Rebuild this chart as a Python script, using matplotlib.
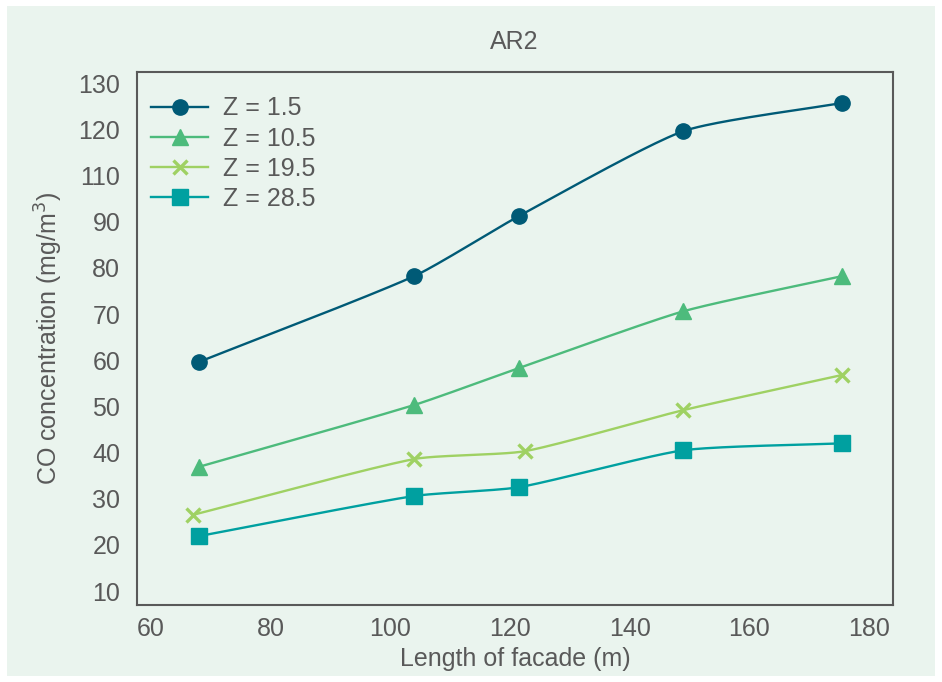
import numpy as np
import matplotlib
matplotlib.use('Agg')
import matplotlib.pyplot as plt
from matplotlib.patches import Rectangle

plt.rcParams['font.family'] = ['Liberation Sans', 'DejaVu Sans']

# data (values as the tick labels read them)
series = ['Z = 1.5', 'Z = 10.5', 'Z = 19.5', 'Z = 28.5']
x_15 = [68, 104, 121.5, 149, 175.5]
y_15 = [59.6, 78.2, 92.4, 119.6, 125.7]
x_105 = [68, 104, 121.5, 149, 175.5]
y_105 = [36.9, 50.3, 58.3, 70.6, 78.2]
x_195 = [67, 104, 122.5, 149, 175.5]
y_195 = [26.5, 38.6, 40.3, 49.2, 56.8]
x_285 = [68, 104, 121.5, 149, 175.5]
y_285 = [21.9, 30.6, 32.5, 40.5, 42.0]

# the original axis skips 100: ticks are evenly spaced but labelled like this
ytick_labels = [10, 20, 30, 40, 50, 60, 70, 80, 90, 110, 120, 130]
ytick_pos = list(range(10, 130, 10))

colors = ['#005a76', '#4dbb7c', '#9fd163', '#00a0a0']
markers = ['o', '^', 'x', 's']
msizes = [11, 12, 10, 11]
text_c = '#595959'


def to_axis(v):
    return np.interp(v, ytick_labels, ytick_pos)


def smooth(x, y, sx=5.96, sy=4.618, n=40):
    # mild smoothing: chord-length scaled bezier tangents, done in pixel-like units
    px = np.asarray(x, float) * sx
    py = np.asarray(y, float) * sy
    pts = np.column_stack([px, py])
    pts = np.vstack([pts[0], pts, pts[-1]])
    out = []
    k = 0.2
    for i in range(1, len(pts) - 2):
        p0, p1, p2, p3 = pts[i - 1], pts[i], pts[i + 1], pts[i + 2]
        d01 = np.hypot(*(p1 - p0))
        d12 = np.hypot(*(p2 - p1))
        d23 = np.hypot(*(p3 - p2))
        c1 = p1 + (p2 - p0) * d12 / (d01 + d12) * k
        c2 = p2 - (p3 - p1) * d12 / (d12 + d23) * k
        t = np.linspace(0, 1, n)[:, None]
        b = (1 - t) ** 3 * p1 + 3 * (1 - t) ** 2 * t * c1 + 3 * (1 - t) * t ** 2 * c2 + t ** 3 * p2
        out.append(b)
    out = np.vstack(out)
    return out[:, 0] / sx, out[:, 1] / sy


fig = plt.figure(figsize=(9.42, 6.82), dpi=100, facecolor='white')
fig.patches.append(Rectangle((7 / 942, 6 / 682), 928 / 942, 670 / 682,
                             transform=fig.transFigure, facecolor='#eaf4ee',
                             edgecolor='none', zorder=-1))
ax = fig.add_axes([137 / 942, 77 / 682, 756 / 942, 533 / 682])
ax.set_facecolor('#eaf4ee')

all_x = [x_15, x_105, x_195, x_285]
all_y = [y_15, y_105, y_195, y_285]
for xs, ys, name, c, m, ms in zip(all_x, all_y, series, colors, markers, msizes):
    ya = to_axis(ys)
    sx, sy = smooth(xs, ya)
    mew = 2.4 if m == 'x' else 1
    ax.plot(sx, sy, color=c, lw=1.7, zorder=2)
    ax.plot(xs, ya, ls='none', marker=m, color=c, ms=ms, mew=mew, zorder=3)
    ax.plot([], [], color=c, lw=1.7, marker=m, ms=ms, mew=mew, label=name)

ax.set_xlim(57.7, 184)
ax.set_ylim(7.0, 122.4)
ax.set_xticks(range(60, 181, 20))
ax.set_yticks(ytick_pos)
ax.set_yticklabels([str(v) for v in ytick_labels])
ax.tick_params(length=0, labelsize=18, colors=text_c)
ax.tick_params(axis='y', pad=12)
ax.tick_params(axis='x', pad=9)
for s in ax.spines.values():
    s.set_color('#595959')
    s.set_linewidth(1.5)

ax.set_xlabel('Length of facade (m)', fontsize=18, color=text_c, labelpad=4)
ax.set_ylabel('CO concentration (mg/m$^3$)', fontsize=18, color=text_c, labelpad=10)
fig.text(514 / 942, 1 - 42 / 682, 'AR2', fontsize=18, color=text_c, ha='center', va='center')

leg = ax.legend(loc='upper left', frameon=False, fontsize=18, handlelength=2.25,
                handletextpad=0.6, labelspacing=0.25,
                bbox_to_anchor=(-0.009, 0.994), borderaxespad=0.45)
for t in leg.get_texts():
    t.set_color(text_c)

fig.savefig('out.png', dpi=100, facecolor='white')
